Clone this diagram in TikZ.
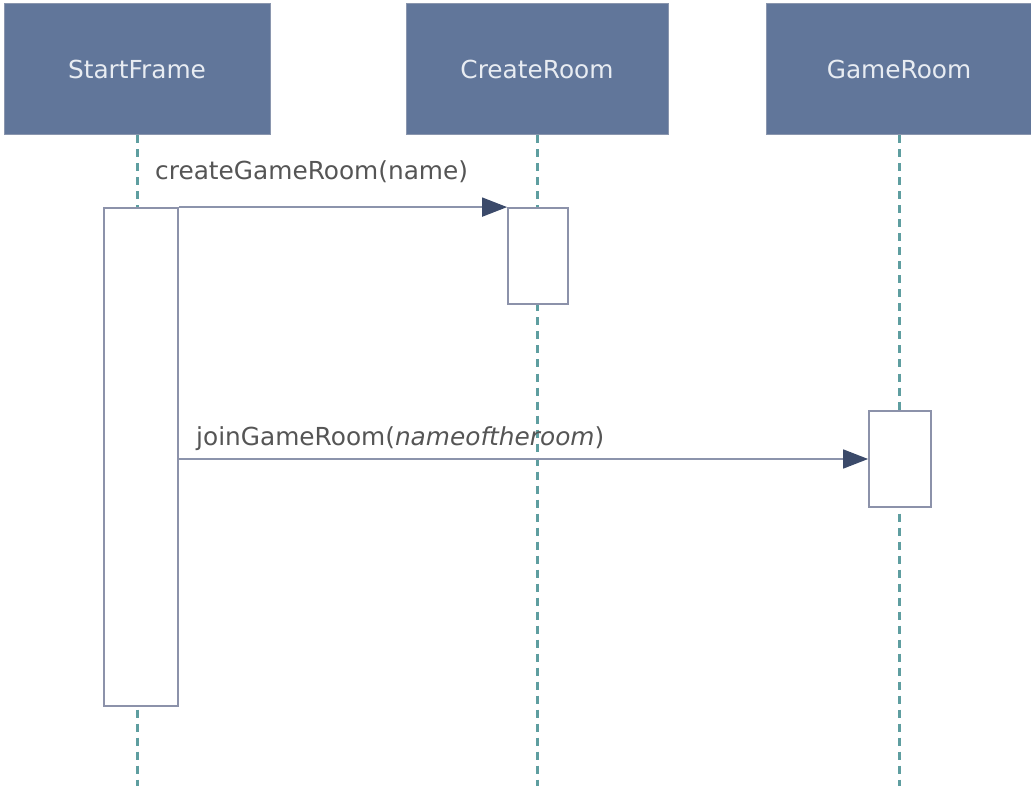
\documentclass[tikz,border=0pt]{standalone}
\usepackage{fontspec}
\setmainfont{DejaVu Sans}
\usetikzlibrary{arrows.meta}
\definecolor{headfill}{HTML}{61769A}
\definecolor{headedge}{HTML}{8A96AE}
\definecolor{headtext}{HTML}{E8ECF2}
\definecolor{lifeline}{HTML}{5E9EA0}
\definecolor{boxedge}{HTML}{8C92AA}
\definecolor{msgline}{HTML}{8C94AC}
\definecolor{tipdark}{HTML}{3B4A6A}
\definecolor{msgtext}{HTML}{555555}
\tikzset{
  x=1pt, y=-1pt,
  header/.style={draw=headedge, line width=1pt, fill=headfill, text=headtext,
    minimum width=#1, minimum height=131pt, inner sep=0pt,
    font=\fontsize{24.8}{28}\selectfont},
  life/.style={draw=lifeline, line width=3pt, dash pattern=on 8pt off 6pt},
  actbox/.style={draw=boxedge, line width=1.8pt, fill=white, inner sep=0pt},
  message/.style={draw=msgline, line width=1.8pt,
    -{Triangle[length=25pt, width=19pt, color=tipdark]}},
  msglabel/.style={text=msgtext, inner sep=0pt, anchor=base west,
    font=\fontsize{24.8}{28}\selectfont}
}
\begin{document}
\begin{tikzpicture}
\useasboundingbox (0,0) rectangle (1031,786);

% object headers
\node[header=266pt] (sf) at (137,69.5) {StartFrame};
\node[header=262pt] (cr) at (537,69.5) {CreateRoom};
\node[header=266pt] (gr) at (899,69.5) {GameRoom};

% lifeline ends
\coordinate (sfEnd) at (137,786);
\coordinate (crEnd) at (537,786);
\coordinate (grEnd) at (899,786);

% lifelines
\draw[life] (sf.south) -- (sfEnd);
\draw[life] (cr.south) -- (crEnd);
\draw[life] (gr.south) -- (grEnd);

% activation bars
\node[actbox, minimum width=74pt, minimum height=498pt] (sfA) at (141,457) {};
\node[actbox, minimum width=60pt, minimum height=96pt] (crA) at (538,256) {};
\node[actbox, minimum width=62pt, minimum height=96pt] (grA) at (900,459) {};

% messages
\draw[message] (sfA.north east) -- (crA.north west);
\draw[message] (sfA.east |- grA.west) -- (grA.west);

% message labels
\node[msglabel] (m1) at (155,180) {createGameRoom(name)};
\node[msglabel] (m2) at (196,445) {joinGameRoom(\textit{nameoftheroom})};
\end{tikzpicture}
\end{document}
